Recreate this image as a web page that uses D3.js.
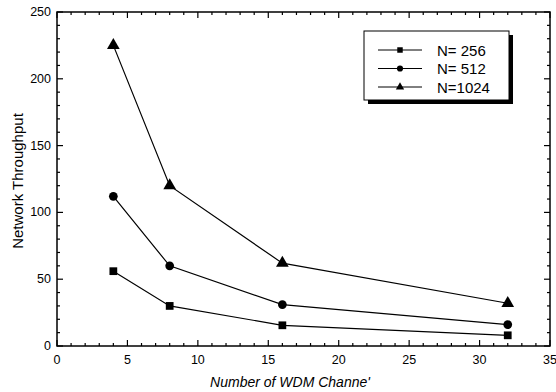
<!DOCTYPE html>
<html>
<head>
<meta charset="utf-8">
<script src="https://cdn.jsdelivr.net/npm/d3@7"></script>
<style>
  body { margin: 0; background: #fff; }
  text { font-family: "Liberation Sans", Arial, sans-serif; }
</style>
</head>
<body>
<div id="chart"></div>
<script>
const channels = [4, 8, 16, 32];
const n256 = [56, 30, 15.5, 8];
const n512 = [112, 60, 31, 16];
const n1024 = [225, 120, 62, 32];
const seriesNames = ["N= 256", "N= 512", "N=1024"];
const xTicks = [0, 5, 10, 15, 20, 25, 30, 35];
const yTicks = [0, 50, 100, 150, 200, 250];

const width = 556, height = 392;
const margin = { top: 12, right: 6, bottom: 46, left: 57 };

const svg = d3.select("#chart").append("svg")
  .attr("width", width).attr("height", height);

const x = d3.scaleLinear().domain([0, 35]).range([margin.left, width - margin.right]);
const y = d3.scaleLinear().domain([0, 250]).range([height - margin.bottom, margin.top]);

// frame
svg.append("rect")
  .attr("x", x(0)).attr("y", y(250))
  .attr("width", x(35) - x(0)).attr("height", y(0) - y(250))
  .attr("fill", "none").attr("stroke", "#000").attr("stroke-width", 1.5);

// inward ticks on all four sides
const minorX = d3.range(0, 36, 1), minorY = d3.range(0, 251, 10);
const tickG = svg.append("g").attr("stroke", "#000").attr("stroke-width", 1.2);
minorX.forEach(v => {
  const len = v % 5 === 0 ? 6 : 3;
  tickG.append("line").attr("x1", x(v)).attr("x2", x(v)).attr("y1", y(0)).attr("y2", y(0) - len);
  tickG.append("line").attr("x1", x(v)).attr("x2", x(v)).attr("y1", y(250)).attr("y2", y(250) + len);
});
minorY.forEach(v => {
  const len = v % 50 === 0 ? 6 : 3;
  tickG.append("line").attr("y1", y(v)).attr("y2", y(v)).attr("x1", x(0)).attr("x2", x(0) + len);
  tickG.append("line").attr("y1", y(v)).attr("y2", y(v)).attr("x1", x(35)).attr("x2", x(35) - len);
});

// tick labels
svg.append("g").selectAll("text").data(xTicks).join("text")
  .attr("x", d => x(d)).attr("y", y(0) + 18)
  .attr("text-anchor", "middle").attr("font-size", 12.5)
  .text(d => d);
svg.append("g").selectAll("text").data(yTicks).join("text")
  .attr("x", x(0) - 6).attr("y", d => y(d) + 4)
  .attr("text-anchor", "end").attr("font-size", 12.5)
  .text(d => d);

// axis titles
svg.append("text")
  .attr("transform", `translate(23, ${(y(0) + y(250)) / 2 + 2}) rotate(-90)`)
  .attr("text-anchor", "middle").attr("font-size", 15)
  .text("Network Throughput");
svg.append("text")
  .attr("x", 290).attr("y", 387)
  .attr("text-anchor", "middle").attr("font-size", 14).attr("font-style", "italic")
  .text("Number of WDM Channe'");

// series
const series = [
  { name: seriesNames[0], vals: n256, sym: d3.symbolSquare, size: 60 },
  { name: seriesNames[1], vals: n512, sym: d3.symbolCircle, size: 60 },
  { name: seriesNames[2], vals: n1024, sym: d3.symbolTriangle, size: 70 },
];
const line = d3.line().x(d => x(d[0])).y(d => y(d[1]));

series.forEach(s => {
  const pts = channels.map((c, i) => [c, s.vals[i]]);
  svg.append("path").datum(pts).attr("d", line)
    .attr("fill", "none").attr("stroke", "#000").attr("stroke-width", 1.2);
  svg.append("g").selectAll("path").data(pts).join("path")
    .attr("transform", d => `translate(${x(d[0])},${y(d[1])})`)
    .attr("d", d3.symbol().type(s.sym).size(s.size))
    .attr("fill", "#000");
});

// legend
const lg = svg.append("g");
lg.append("rect").attr("x", 368).attr("y", 35).attr("width", 145).attr("height", 69).attr("fill", "#000");
lg.append("rect").attr("x", 364).attr("y", 31).attr("width", 145).attr("height", 69)
  .attr("fill", "#fff").attr("stroke", "#000").attr("stroke-width", 1);
series.forEach((s, i) => {
  const yy = 50 + i * 18.5;
  lg.append("line").attr("x1", 378).attr("x2", 422).attr("y1", yy).attr("y2", yy)
    .attr("stroke", "#000").attr("stroke-width", 1);
  lg.append("path").attr("transform", `translate(400,${yy})`)
    .attr("d", d3.symbol().type(s.sym).size(30)).attr("fill", "#000");
  lg.append("text").attr("x", 437).attr("y", yy + 5.5).attr("font-size", 15).text(s.name);
});
</script>
</body>
</html>
